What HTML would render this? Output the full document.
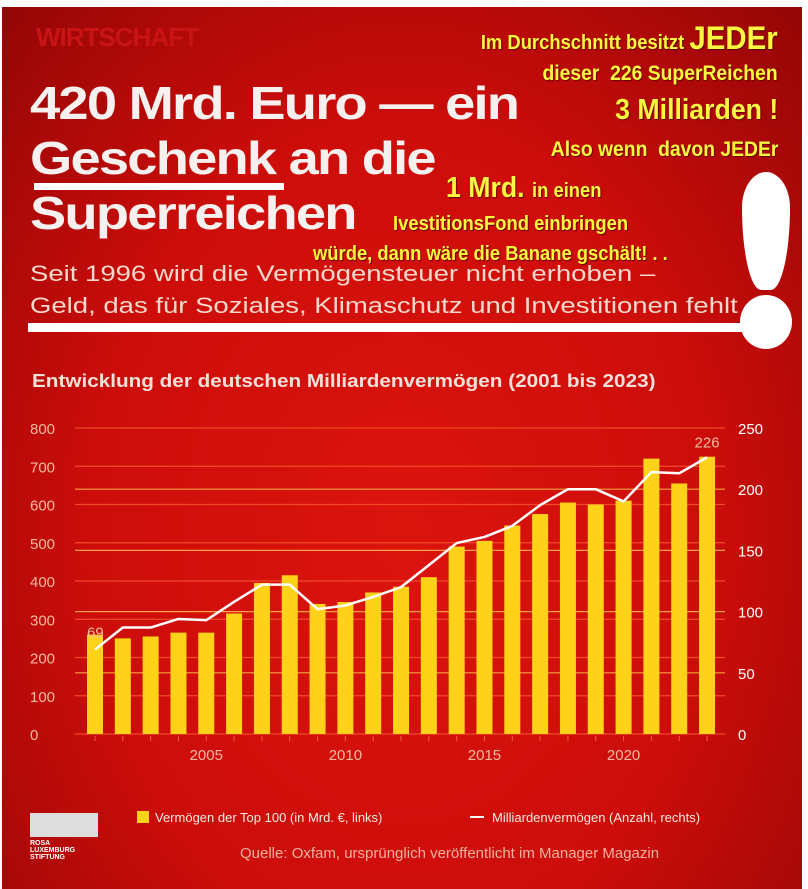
<!DOCTYPE html>
<html><head><meta charset="utf-8"><style>
body{margin:0;width:808px;height:889px;background:#fff;overflow:hidden;font-family:"Liberation Sans",sans-serif}
#bg{position:absolute;left:2px;top:7px;width:800px;height:882px;background:radial-gradient(ellipse at 50% 60%,#dc140e 0%,#cc0d0a 55%,#940606 100%)}
.t{position:absolute;white-space:nowrap}
.y{color:#f8f840;font-weight:bold;text-shadow:1px 1px 1px #600;transform-origin:right top;transform:scaleX(0.92)}
</style></head><body>
<div id="bg"></div>
<div class="t" style="left:36px;top:22px;font-size:26px;font-weight:900;color:#c81414;letter-spacing:-1px">WIRTSCHAFT</div>
<div class="t" style="left:30px;top:76px;font-size:46px;line-height:55px;font-weight:bold;letter-spacing:-1.5px;color:#f6f0ee;transform-origin:left top;transform:scaleX(1.18)">420 Mrd. Euro — ein<br>Geschenk an die<br>Superreichen</div>
<div style="position:absolute;left:34px;top:183px;width:250px;height:7px;background:#fff"></div>
<div class="t" style="left:30px;top:258px;font-size:22px;line-height:32px;color:#f4d8cc;transform-origin:left top;transform:scaleX(1.25)">Seit 1996 wird die Vermögensteuer nicht erhoben –<br>Geld, das für Soziales, Klimaschutz und Investitionen fehlt</div>
<div style="position:absolute;left:28px;top:323px;width:715px;height:9px;background:#fff"></div>
<div class="t y" style="right:30px;top:20px;font-size:20px">Im Durchschnitt besitzt <span style="font-size:32px">JEDEr</span></div>
<div class="t y" style="right:30px;top:62px;font-size:21px">dieser&nbsp; 226 SuperReichen</div>
<div class="t y" style="right:30px;top:94px;font-size:29px">3 Milliarden !</div>
<div class="t y" style="right:30px;top:138px;font-size:21px">Also wenn&nbsp; davon JEDEr</div>
<div class="t y" style="left:446px;top:172px;font-size:29px;transform-origin:left top">1 Mrd. <span style="font-size:20px">in einen</span></div>
<div class="t y" style="left:393px;top:213px;font-size:20px;transform-origin:left top">IvestitionsFond einbringen</div>
<div class="t y" style="left:313px;top:243px;font-size:20px;transform-origin:left top">würde, dann wäre die Banane gschält! . .</div>
<div style="position:absolute;left:742px;top:172px;width:48px;height:118px;background:#fff;border-radius:50% 50% 40% 40%/30% 30% 70% 70%"></div>
<div style="position:absolute;left:740px;top:295px;width:52px;height:54px;background:#fff;border-radius:50%"></div>
<div class="t" style="left:32px;top:371px;font-size:18px;font-weight:bold;color:#f2e0d8;transform-origin:left top;transform:scaleX(1.15)">Entwicklung der deutschen Milliardenvermögen (2001 bis 2023)</div>
<svg id="chart" width="808" height="889" style="position:absolute;left:0;top:0"></svg>
<div class="t" style="left:137px;top:810px;font-size:13px;color:#f6e8e0"><span style="display:inline-block;width:12px;height:12px;background:#ffd21a;vertical-align:-1px;margin-right:6px"></span>Vermögen der Top 100 (in Mrd. €, links)</div>
<div class="t" style="left:470px;top:810px;font-size:13px;color:#f6e8e0"><span style="display:inline-block;width:14px;height:2px;background:#fff;vertical-align:4px;margin-right:8px"></span>Milliardenvermögen (Anzahl, rechts)</div>
<div class="t" style="left:240px;top:845px;font-size:15px;color:#f0b0a0">Quelle: Oxfam, ursprünglich veröffentlicht im Manager Magazin</div>
<div style="position:absolute;left:30px;top:813px;width:68px;height:24px;background:#ddd"></div>
<div class="t" style="left:30px;top:840px;font-size:7px;line-height:7px;font-weight:bold;color:#fff">ROSA<br>LUXEMBURG<br>STIFTUNG</div>
<script>
const years=[2001,2002,2003,2004,2005,2006,2007,2008,2009,2010,2011,2012,2013,2014,2015,2016,2017,2018,2019,2020,2021,2022,2023];
const wealth=[260,250,255,265,265,315,395,415,340,345,370,385,410,490,505,545,575,605,600,610,720,655,725];
const count=[69,87,87,94,93,108,122,122,102,105,112,120,138,156,161,170,187,200,200,190,214,213,226];
const leftTicks=[0,100,200,300,400,500,600,700,800];
const rightTicks=[0,50,100,150,200,250];
const xTicks=[2005,2010,2015,2020];
const svg=document.getElementById('chart');const NS='http://www.w3.org/2000/svg';
const x=y=>95+(y-2001)*27.82;
const yl=v=>734-v*306/800;
const yr=v=>734-v*306/250;
function mk(t,a,txt){const e=document.createElementNS(NS,t);for(const k in a)e.setAttribute(k,a[k]);if(txt!=null)e.textContent=txt;svg.appendChild(e);return e;}
leftTicks.forEach(v=>{
 const l=mk('line',{x1:75,x2:725,y1:yl(v),y2:yl(v),stroke:'#f04a2a','stroke-width':1.2});
 
 
 const t=mk('text',{x:30,y:yl(v)+6,fill:'#f7b9a0','font-size':15,'font-family':'Liberation Sans'},v);
 
 
});
rightTicks.forEach(v=>{
 if(v>0&&v<250){const l=mk('line',{x1:75,x2:725,y1:yr(v),y2:yr(v),stroke:'#f7a040','stroke-width':1.2});
 
 }
 const t=mk('text',{x:738,y:yr(v)+6,fill:'#ffffff','font-size':15,'font-family':'Liberation Sans'},v);
 
 
});
years.forEach((yr_,i)=>{
 const b=mk('rect',{x:x(yr_)-8,y:yl(wealth[i]),width:16,height:734-yl(wealth[i]),fill:'#ffd21a'});
 
 
 const k=mk('line',{x1:x(yr_),x2:x(yr_),y1:736,y2:741,stroke:'#f06040'});
 
 
});
xTicks.forEach(v=>{
 const t=mk('text',{x:x(v),y:760,fill:'#f7b9a0','font-size':15,'text-anchor':'middle','font-family':'Liberation Sans'},v);
 
 
});
const p=mk('polyline',{points:years.map((y,i)=>x(y)+','+yr(count[i])).join(' '),fill:'none',stroke:'#fff','stroke-width':2.5,'stroke-linejoin':'round'});


const a=mk('text',{x:x(2001)-8,y:yr(count[0])-12,fill:'#f7b9a0','font-size':15,'font-family':'Liberation Sans'},count[0]);


const b=mk('text',{x:x(2023),y:yr(count[22])-10,fill:'#f7b9a0','font-size':15,'text-anchor':'middle','font-family':'Liberation Sans'},count[22]);


</script>
</body></html>
